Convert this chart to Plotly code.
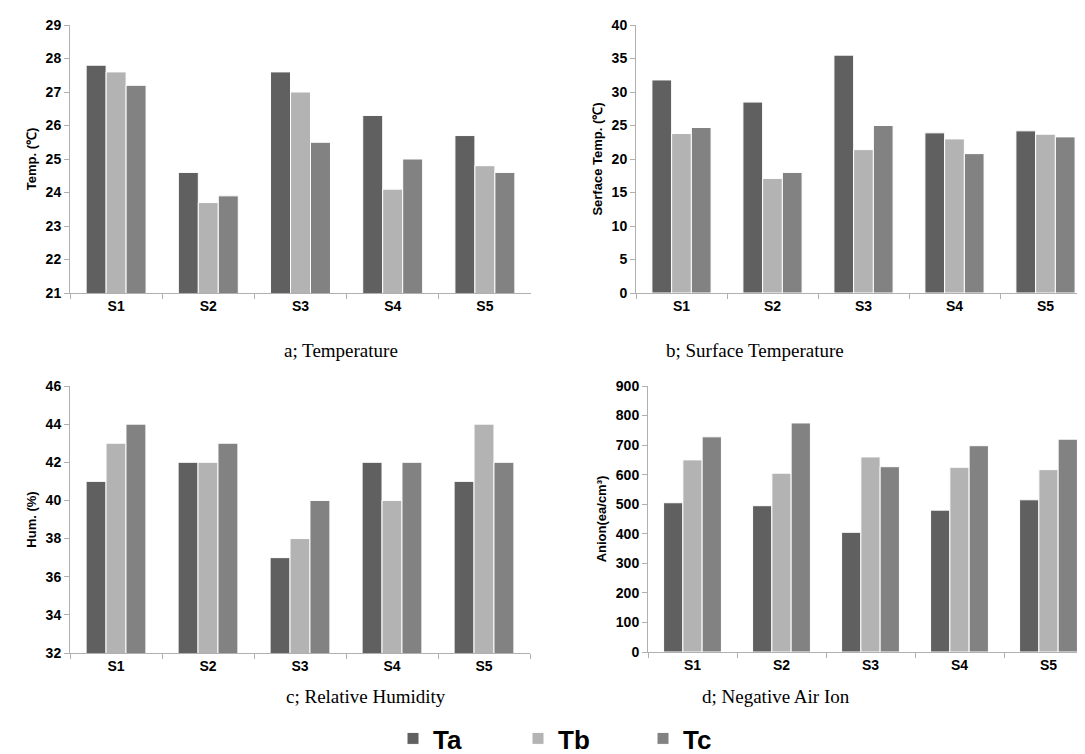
import plotly.graph_objects as go

sites = ["S1", "S2", "S3", "S4", "S5"]
series_names = ["Ta", "Tb", "Tc"]
colors = ["#606060", "#b3b3b3", "#828282"]

temp_ta = [27.8, 24.6, 27.6, 26.3, 25.7]
temp_tb = [27.6, 23.7, 27.0, 24.1, 24.8]
temp_tc = [27.2, 23.9, 25.5, 25.0, 24.6]

surf_ta = [31.8, 28.5, 35.5, 23.9, 24.2]
surf_tb = [23.8, 17.1, 21.4, 23.0, 23.7]
surf_tc = [24.7, 18.0, 25.0, 20.8, 23.3]

hum_ta = [41, 42, 37, 42, 41]
hum_tb = [43, 42, 38, 40, 44]
hum_tc = [44, 43, 40, 42, 42]

ion_ta = [505, 495, 405, 480, 515]
ion_tb = [650, 605, 660, 625, 617]
ion_tc = [728, 775, 627, 698, 720]

panels = [
    dict(data=[temp_ta, temp_tb, temp_tc], title="Temp. (℃)", rng=[21, 29], dtick=1,
         caption="a; Temperature"),
    dict(data=[surf_ta, surf_tb, surf_tc], title="Serface Temp. (℃)", rng=[0, 40], dtick=5,
         caption="b; Surface Temperature"),
    dict(data=[hum_ta, hum_tb, hum_tc], title="Hum. (%)", rng=[32, 46], dtick=2,
         caption="c; Relative Humidity"),
    dict(data=[ion_ta, ion_tb, ion_tc], title="Anion(ea/cm³)", rng=[0, 900], dtick=100,
         caption="d; Negative Air Ion"),
]

W, H = 1085, 754
# pixel boxes: (left, right, top, bottom)
boxes = [(62, 523, 17, 285), (628, 1083, 17, 285), (62, 522, 378, 645), (640, 1085, 378, 644)]
caption_pos = [(274, 342), (838, 342), (276, 701), (844, 701)]

fig = go.Figure()
tickfont = dict(family="Liberation Sans", size=14, color="black", weight="bold")
catfont = dict(family="Liberation Sans", size=14, color="black", weight="bold")
axcolor = "#b0b0b0"

for i, p in enumerate(panels):
    n = "" if i == 0 else str(i + 1)
    for j, name in enumerate(series_names):
        fig.add_trace(go.Bar(
            x=sites, y=p["data"][j], name=name,
            marker=dict(color=colors[j], line=dict(color="white", width=1)),
            xaxis="x" + n, yaxis="y" + n, showlegend=(i == 0),
        ))
    l, r, t, b = boxes[i]
    fig.layout["xaxis" + n] = dict(
        domain=[l / W, r / W], anchor="y" + n, showline=True, linecolor=axcolor,
        ticks="outside", tickson="boundaries", ticklen=5, tickcolor=axcolor,
        tickfont=catfont, showgrid=False, automargin=False,
    )
    fig.layout["yaxis" + n] = dict(
        domain=[1 - b / H, 1 - t / H], anchor="x" + n, range=p["rng"], dtick=p["dtick"],
        showline=True, linecolor=axcolor, ticks="outside", ticklen=5, tickcolor=axcolor,
        tickfont=tickfont, showgrid=False, zeroline=False, automargin=False,
        title=dict(text=p["title"], font=dict(family="Liberation Sans", size=13,
                                                color="black", weight="bold"), standoff=6),
    )
    cx, cy = caption_pos[i]
    fig.add_annotation(x=cx / W, y=1 - cy / H, xref="paper", yref="paper",
                       text=p["caption"], showarrow=False,
                       font=dict(family="Liberation Serif", size=19, color="black"))

fig.update_layout(
    width=W, height=H, barmode="group", bargap=0.35, bargroupgap=0,
    plot_bgcolor="white", paper_bgcolor="white",
    margin=dict(l=0, r=0, t=0, b=0, autoexpand=False),
    legend=dict(orientation="h", x=385 / W, xanchor="left", y=0, yanchor="bottom",
                font=dict(family="Liberation Sans", size=26, color="black", weight="bold"),
                entrywidth=80, entrywidthmode="pixels", itemwidth=30,
                bgcolor="rgba(0,0,0,0)"),
)

fig.write_html("out.html")
